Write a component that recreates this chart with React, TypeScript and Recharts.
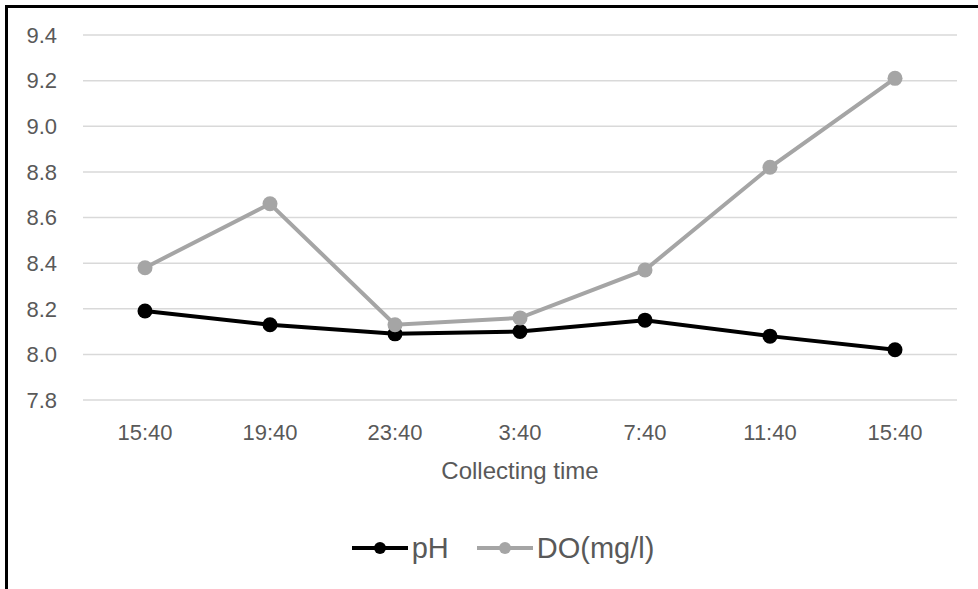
import React from 'react';
import { LineChart, Line, XAxis, YAxis, CartesianGrid, Legend } from 'recharts';

const times = ['15:40', '19:40', '23:40', '3:40', '7:40', '11:40', '15:40'];
const phValues = [8.19, 8.13, 8.09, 8.1, 8.15, 8.08, 8.02];
const doValues = [8.38, 8.66, 8.13, 8.16, 8.37, 8.82, 9.21];
const yTicks = [7.8, 8.0, 8.2, 8.4, 8.6, 8.8, 9.0, 9.2, 9.4];
const seriesNames = ['pH', 'DO(mg/l)'];

const data = times.map((t, i) => ({ time: t, ph: phValues[i], do: doValues[i] }));

const FONT = '"Liberation Sans", Arial, sans-serif';
const TEXT = '#595959';

const LegendContent = (props: any) => {
  const items = [...(props.payload || [])].sort(
    (a: any, b: any) => seriesNames.indexOf(a.value) - seriesNames.indexOf(b.value)
  );
  return (
    <div
      style={{
        display: 'flex',
        justifyContent: 'center',
        alignItems: 'center',
        height: 40,
        paddingLeft: 56,
        fontFamily: FONT,
        fontSize: 29,
        color: TEXT,
      }}
    >
      {items.map((item: any) => (
        <div key={item.value} style={{ display: 'flex', alignItems: 'center', marginRight: 28 }}>
          <svg width={56} height={20}>
            <line x1={0} y1={10} x2={56} y2={10} stroke={item.color} strokeWidth={4} />
            <circle cx={28} cy={10} r={6} fill={item.color} />
          </svg>
          <span style={{ marginLeft: 4 }}>{item.value}</span>
        </div>
      ))}
    </div>
  );
};

const App: React.FC = () => {
  return (
    <div style={{ position: 'absolute', left: 0, top: 0, width: 978, height: 589, background: '#fff' }}>
      <div
        style={{
          position: 'absolute',
          left: 5,
          top: 5,
          right: 0,
          bottom: 0,
          borderLeft: '3px solid #000',
          borderTop: '3px solid #000',
        }}
      />
      <LineChart
        width={978}
        height={589}
        data={data}
        margin={{ top: 35, right: 21, left: 23, bottom: 129 }}
        style={{ position: 'absolute', left: 0, top: 0 }}
      >
        <CartesianGrid vertical={false} stroke="#d9d9d9" strokeWidth={1.5} />
        <XAxis
          dataKey="time"
          axisLine={false}
          tickLine={false}
          height={60}
          padding={{ left: 62, right: 62 }}
          tickMargin={18}
          tick={{ fill: TEXT, fontSize: 22, fontFamily: FONT }}
          interval={0}
          label={{
            value: 'Collecting time',
            position: 'bottom',
            offset: 2,
            fill: TEXT,
            fontSize: 24,
            fontFamily: FONT,
          }}
        />
        <YAxis
          width={60}
          domain={[7.8, 9.4]}
          ticks={yTicks}
          axisLine={false}
          tickLine={false}
          tickMargin={20}
          tickFormatter={(v: number) => v.toFixed(1)}
          tick={{ fill: TEXT, fontSize: 22, fontFamily: FONT }}
        />
        <Legend
          verticalAlign="middle"
          content={<LegendContent />}
          wrapperStyle={{ top: 528, bottom: 'auto', left: 0, width: 978 }}
        />
        <Line
          type="linear"
          dataKey="ph"
          name="pH"
          stroke="#000000"
          strokeWidth={4}
          dot={{ r: 7.5, fill: '#000000', stroke: '#000000', strokeWidth: 0 }}
          activeDot={false}
          isAnimationActive={false}
        />
        <Line
          type="linear"
          dataKey="do"
          name="DO(mg/l)"
          stroke="#a5a5a5"
          strokeWidth={4}
          dot={{ r: 7.5, fill: '#a5a5a5', stroke: '#a5a5a5', strokeWidth: 0 }}
          activeDot={false}
          isAnimationActive={false}
        />
      </LineChart>
    </div>
  );
};

export default App;
